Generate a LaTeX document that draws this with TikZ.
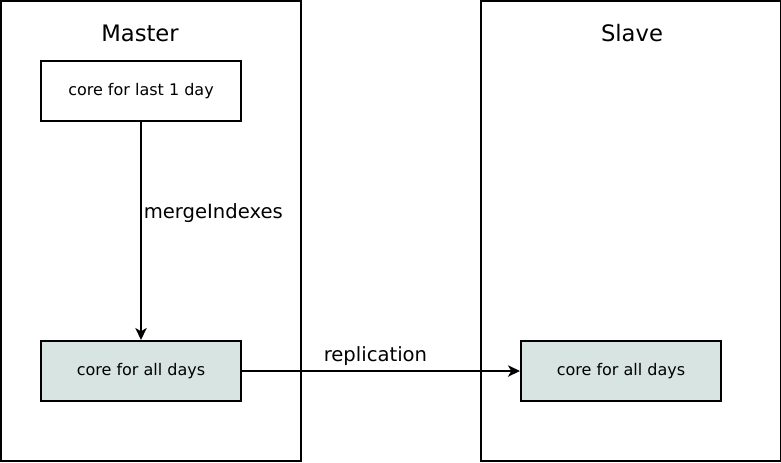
\documentclass[tikz,border=0pt]{standalone}
\usepackage{fontspec}
\setmainfont{DejaVu Sans}
\usetikzlibrary{arrows.meta}
\definecolor{corefill}{RGB}{216,228,226}

\begin{document}
\begin{tikzpicture}[x=0.75pt, y=-0.75pt]
\tikzset{cadre/.style={draw, line width=1.5pt, minimum width=225pt, minimum height=345pt, inner sep=0pt}}
\tikzset{coeur/.style={draw, line width=1.5pt, minimum width=150pt, minimum height=45pt, inner sep=0pt, font=\fontsize{12pt}{14pt}\selectfont}}
\tikzset{fleche/.style={line width=1.5pt, -{Stealth[length=9pt, width=8.5pt, inset=2.5pt]}}}
\useasboundingbox (0, 0) rectangle (781, 462);
\node[cadre] (M) at (151, 231) {};
\node[cadre] (S) at (630.5, 231) {};
\node[font=\fontsize{17pt}{20pt}\selectfont] (TM) at (140, 33) {Master};
\node[font=\fontsize{17pt}{20pt}\selectfont] (TS) at (632, 33) {Slave};
\node[coeur] (C1) at (141, 91) {core for last 1 day};
\node[coeur, fill=corefill] (C2) at (141, 371) {core for all days};
\node[coeur, fill=corefill] (C3) at (621, 371) {core for all days};
\draw[fleche] (C1) -- node[pos=0.42, right=-2pt, font=\fontsize{14.7pt}{17pt}\selectfont] {mergeIndexes} (C2);
\draw[fleche] (C2) -- node[above=0pt, pos=0.48, font=\fontsize{14.7pt}{17pt}\selectfont] {replication} (C3);
\end{tikzpicture}
\end{document}
